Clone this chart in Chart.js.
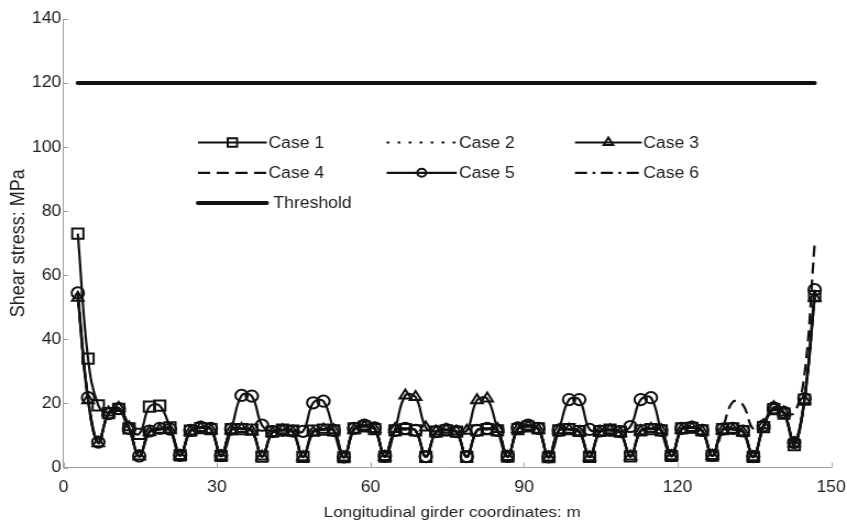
<!DOCTYPE html>
<html>
<head>
<meta charset="utf-8">
<script src="https://cdn.jsdelivr.net/npm/chart.js@4.4.1/dist/chart.umd.min.js"></script>
<style>
html, body { margin: 0; padding: 0; background: #ffffff; overflow: hidden; }
#wrap { width: 770px; height: 526px; transform: scaleX(1.1); transform-origin: 0 0; }
canvas { display: block; }
</style>
</head>
<body>
<div id="wrap"><canvas id="c" width="770" height="526"></canvas></div>
<script>
// ---------- data ----------
const xCoords = [2.8,4.8,6.8,8.8,10.8,12.8,14.8,16.8,18.8,20.8,22.8,24.8,26.8,28.8,30.8,32.8,34.8,36.8,38.8,40.8,42.8,44.8,46.8,48.8,50.8,52.8,54.8,56.8,58.8,60.8,62.8,64.8,66.8,68.8,70.8,72.8,74.8,76.8,78.8,80.8,82.8,84.8,86.8,88.8,90.8,92.8,94.8,96.8,98.8,100.8,102.8,104.8,106.8,108.8,110.8,112.8,114.8,116.8,118.8,120.8,122.8,124.8,126.8,128.8,130.8,132.8,134.8,136.8,138.8,140.8,142.8,144.8,146.8];

const case1 = [73.0,34.0,19.4,17.0,18.3,12.2,10.5,19.0,19.3,12.5,
  3.8,11.5,12.3,12.0,3.6,12.0,12.0,11.8,3.4,11.2,
  11.8,11.5,3.3,11.5,11.8,11.6,3.2,12.2,12.8,12.0,
  3.4,11.6,12.0,11.6,3.3,11.2,11.6,11.2,3.3,11.6,
  12.0,11.6,3.4,12.0,12.8,12.2,3.2,11.6,12.0,11.4,
  3.3,11.4,11.8,11.2,3.5,11.6,12.0,11.6,3.6,12.2,
  12.4,11.6,3.7,12.0,12.2,11.4,3.3,12.6,18.2,16.8,
  7.0,21.2,53.5];

const case2 = [53.5,21.5,7.8,17.0,18.5,12.4,3.5,11.2,12.0,11.8,
  3.7,11.5,12.5,12.0,3.6,11.8,12.2,11.5,3.5,11.0,
  11.8,11.2,3.3,11.2,12.0,11.8,3.2,12.0,13.0,12.2,
  3.4,11.5,12.0,11.5,3.3,11.0,11.5,11.0,3.3,11.5,
  12.0,11.5,3.4,12.2,13.0,12.0,3.2,11.8,12.0,11.2,
  3.3,11.2,11.8,11.0,3.5,11.5,12.2,11.8,3.6,12.0,
  12.5,11.5,3.7,11.8,12.0,11.2,3.3,12.8,18.5,17.0,
  7.5,21.0,53.5];

const case3 = [53.0,21.0,7.6,17.2,18.6,12.6,3.4,11.0,11.8,11.6,
  3.6,11.2,12.3,11.8,3.5,11.6,12.0,11.3,3.4,10.8,
  11.6,11.0,3.2,11.0,11.8,11.6,3.1,11.8,12.8,12.0,
  3.3,12.0,22.5,22.0,12.5,11.2,11.8,11.2,11.5,21.0,
  21.5,12.0,3.3,12.0,12.8,11.8,3.1,11.6,11.8,11.0,
  3.2,11.0,11.6,10.8,3.4,11.3,12.0,11.6,3.5,11.8,
  12.3,11.3,3.6,11.6,11.8,11.0,3.2,13.2,18.8,17.2,
  7.6,21.0,53.0];

const case4 = [53.8,21.5,7.8,17.0,18.5,12.4,3.5,11.2,12.0,11.8,
  3.7,11.5,12.5,12.0,3.6,11.8,12.2,11.5,3.5,11.0,
  11.8,11.2,3.3,11.2,12.0,11.8,3.2,12.0,13.0,12.2,
  3.4,11.5,12.0,11.5,3.3,11.0,11.5,11.0,3.3,11.5,
  12.0,11.5,3.4,12.2,13.0,12.0,3.2,11.8,12.0,11.2,
  3.3,11.2,11.8,11.0,3.5,11.5,12.2,11.8,3.6,12.0,
  12.5,11.5,3.7,12.0,20.5,19.5,12.0,12.8,18.5,17.0,
  17.0,29.0,70.0];

const case5 = [54.5,21.8,7.9,16.8,18.4,12.2,3.6,11.4,12.2,12.0,
  3.8,11.6,12.6,12.2,3.7,12.0,22.5,22.3,13.2,11.2,
  11.6,11.4,11.3,20.2,20.7,11.6,3.3,12.2,13.2,12.4,
  3.5,11.6,12.2,11.6,3.4,11.2,11.8,11.2,3.4,11.6,
  12.2,11.6,3.5,12.4,13.2,12.2,3.3,11.6,21.2,21.2,
  11.9,11.4,11.6,11.2,12.8,21.2,21.8,11.6,3.7,12.2,
  12.6,11.6,3.8,12.0,12.2,11.4,3.4,13.0,18.6,17.2,
  7.8,21.5,55.5];

const case6 = [53.5,21.3,7.7,17.0,18.4,12.3,3.5,11.3,12.0,11.8,
  3.7,11.5,12.4,12.0,3.6,11.8,12.1,11.5,3.5,11.0,
  11.7,11.2,3.3,11.2,11.9,11.7,3.2,12.0,12.9,12.1,
  3.4,11.5,11.9,11.5,3.3,11.0,11.5,11.0,3.3,11.5,
  11.9,11.5,3.4,12.1,12.9,12.0,3.2,11.7,11.9,11.2,
  3.3,11.2,11.7,11.0,3.5,11.5,12.1,11.8,3.6,12.0,
  12.4,11.5,3.7,11.8,12.0,11.2,3.3,12.8,18.4,17.0,
  7.6,21.0,53.6];

const thresholdX = [2.8, 146.8];
const thresholdY = [120, 120];

const seriesNames = ['Case 1', 'Case 2', 'Case 3', 'Case 4', 'Case 5', 'Case 6', 'Threshold'];
const xTickValues = [0, 30, 60, 90, 120, 150];
const yTickValues = [0, 20, 40, 60, 80, 100, 120, 140];
const xTitle = 'Longitudinal girder coordinates: m';
const yTitle = 'Shear stress: MPa';

// ---------- styling ----------
const INK = '#111111';
const AXIS = '#a3a3a3';
const TEXT = '#202020';
const FONT = "'Liberation Sans', Arial, Helvetica, sans-serif";
Chart.defaults.font.family = FONT;

function toPoints(xs, ys) { return xs.map((x, i) => ({ x: x, y: ys[i] })); }

function series(label, ys, extra) {
  return Object.assign({
    label: label,
    data: toPoints(xCoords, ys),
    borderColor: INK,
    borderWidth: 2.2,
    tension: 0.4,
    fill: false,
    clip: false,
    pointRadius: 0,
    pointHoverRadius: 0,
    pointBackgroundColor: 'rgba(0,0,0,0)',
    pointBorderColor: INK,
    pointBorderWidth: 2,
    borderDash: []
  }, extra || {});
}

const datasets = [
  series(seriesNames[0], case1, { pointStyle: 'rect', pointRadius: 7.2, legendRadius: 6 }),
  series(seriesNames[1], case2, { borderDash: [2.5, 7.5], borderWidth: 1.8 }),
  series(seriesNames[2], case3, { pointStyle: 'triangle', pointRadius: 6, legendRadius: 5 }),
  series(seriesNames[3], case4, { borderDash: [11, 6] }),
  series(seriesNames[4], case5, { pointStyle: 'circle', pointRadius: 5.6, legendRadius: 4 }),
  series(seriesNames[5], case6, { borderDash: [11, 5, 2.5, 5] }),
  {
    label: seriesNames[6],
    data: toPoints(thresholdX, thresholdY),
    borderColor: INK,
    borderWidth: 4,
    borderCapStyle: 'round',
    tension: 0,
    fill: false,
    clip: false,
    pointRadius: 0,
    pointHoverRadius: 0,
    borderDash: []
  }
];

// inside tick marks + x title
const insideTicks = {
  id: 'insideTicks',
  beforeDatasetsDraw(chart) {
    const { ctx } = chart;
    const xs = chart.scales.x, ys = chart.scales.y;
    ctx.save();
    ctx.strokeStyle = AXIS;
    ctx.lineWidth = 1;
    ctx.beginPath();
    xs.ticks.forEach(t => {
      const px = Math.round(xs.getPixelForValue(t.value)) + 0.5;
      ctx.moveTo(px, ys.bottom);
      ctx.lineTo(px, ys.bottom - 5);
    });
    ys.ticks.forEach(t => {
      const py = Math.round(ys.getPixelForValue(t.value)) + 0.5;
      ctx.moveTo(xs.left, py);
      ctx.lineTo(xs.left + 4.5, py);
    });
    ctx.stroke();
    // x axis title
    ctx.fillStyle = TEXT;
    ctx.font = '15.5px ' + FONT;
    ctx.textAlign = 'center';
    ctx.textBaseline = 'middle';
    ctx.fillText(xTitle, (xs.left + xs.right) / 2 + 4.5, 512.5);
    ctx.restore();
  }
};

// in-plot legend, 3 columns
const gridLegend = {
  id: 'gridLegend',
  afterDraw(chart) {
    const { ctx } = chart;
    const cols = [
      { x0: 180, x1: 242.5, tx: 244 },
      { x0: 351.5, x1: 415.2, tx: 417.3 },
      { x0: 522.7, x1: 583.4, tx: 584.8 }
    ];
    const rows = [142.5, 172.8, 203];
    ctx.save();
    chart.data.datasets.forEach((ds, i) => {
      const c = cols[i % 3];
      const y = rows[Math.floor(i / 3)];
      const isThreshold = ds.borderWidth >= 3;
      ctx.strokeStyle = ds.borderColor;
      ctx.lineWidth = ds.borderWidth;
      ctx.setLineDash(ds.borderDash || []);
      ctx.lineCap = isThreshold ? 'round' : 'butt';
      ctx.beginPath();
      ctx.moveTo(c.x0, y);
      ctx.lineTo(c.x1, y);
      ctx.stroke();
      ctx.setLineDash([]);
      if (ds.pointRadius > 0) {
        ctx.fillStyle = 'rgba(0,0,0,0)';
        ctx.strokeStyle = ds.pointBorderColor;
        ctx.lineWidth = ds.pointBorderWidth;
        Chart.helpers.drawPoint(ctx, {
          pointStyle: ds.pointStyle, rotation: 0,
          radius: ds.legendRadius, borderWidth: ds.pointBorderWidth
        }, (c.x0 + c.x1) / 2, y);
      }
      ctx.fillStyle = TEXT;
      ctx.font = '16px ' + FONT;
      ctx.textAlign = 'left';
      ctx.textBaseline = 'middle';
      ctx.fillText(ds.label, isThreshold ? c.x1 + 6 : c.tx, y + 1);
    });
    ctx.restore();
  }
};

new Chart(document.getElementById('c'), {
  type: 'line',
  data: { datasets: datasets },
  plugins: [insideTicks, gridLegend],
  options: {
    responsive: false,
    animation: false,
    devicePixelRatio: 1,
    events: [],
    layout: { padding: { left: 0, right: 14.5, top: 19, bottom: 0 } },
    plugins: { legend: { display: false }, tooltip: { enabled: false } },
    scales: {
      x: {
        type: 'linear', min: 0, max: 150,
        afterBuildTicks: s => { s.ticks = xTickValues.map(v => ({ value: v })); },
        afterFit: s => { s.height = 58.5; s.paddingLeft = 0; s.paddingRight = 0; },
        grid: { display: false, drawTicks: false },
        border: { display: true, color: AXIS, width: 1 },
        ticks: { padding: 10.4, color: TEXT, font: { size: 16 }, maxRotation: 0, autoSkip: false },
        title: { display: false }
      },
      y: {
        type: 'linear', min: 0, max: 140,
        afterBuildTicks: s => { s.ticks = yTickValues.map(v => ({ value: v })); },
        afterFit: s => { s.width = 57.7; },
        grid: { display: false, drawTicks: false },
        border: { display: true, color: AXIS, width: 1 },
        ticks: { padding: 2, color: TEXT, font: { size: 16 }, autoSkip: false },
        title: { display: true, text: yTitle, color: TEXT, font: { size: 18 }, padding: { top: 5.9, bottom: 0 } }
      }
    }
  }
});
</script>
</body>
</html>
